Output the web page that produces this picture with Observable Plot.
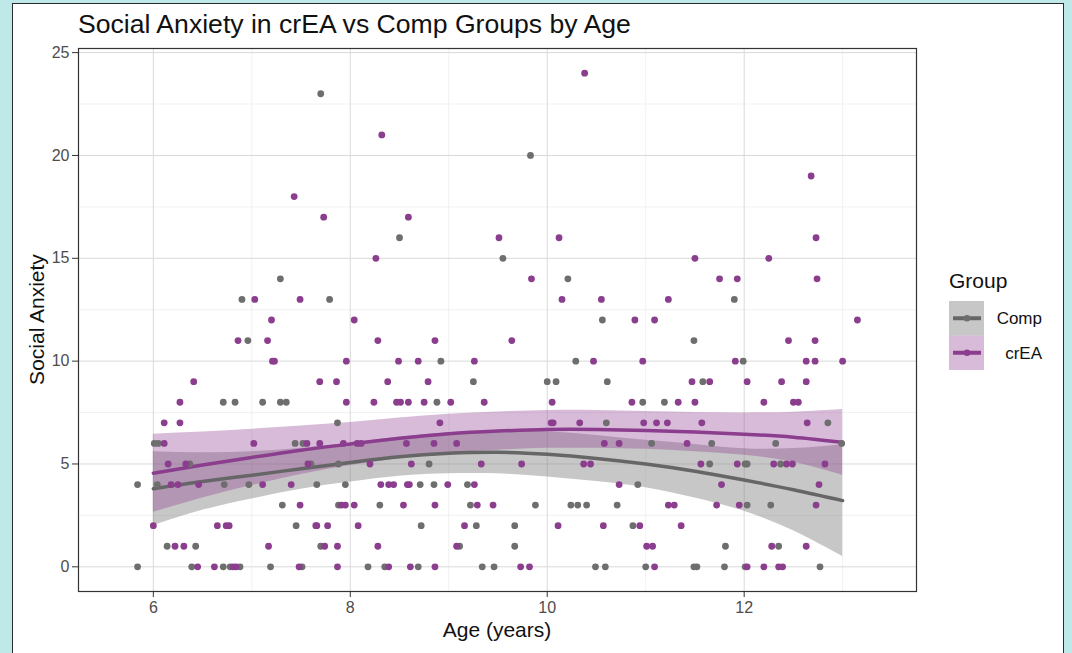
<!DOCTYPE html>
<html><head><meta charset="utf-8">
<script src="https://cdn.jsdelivr.net/npm/d3@7"></script>
<script src="https://cdn.jsdelivr.net/npm/@observablehq/plot@0.6"></script>
<style>
html,body{margin:0;padding:0;background:#bfe8e8;width:1072px;height:653px;overflow:hidden;font-family:"Liberation Sans",Arial,Helvetica,sans-serif;}
#card{position:absolute;left:12px;top:3px;width:1052px;height:700px;background:#fff;border:1px solid #2b2b2b;box-sizing:border-box;}
#chart{position:absolute;left:0;top:0;}
</style></head><body><div id="card"></div><div id="chart"></div>
<script>
const titleText = "Social Anxiety in crEA vs Comp Groups by Age";
const xTitle = "Age (years)";
const yTitle = "Social Anxiety";
const legendTitle = "Group";
const groups = ["Comp", "crEA"];

const xMajor = [6, 8, 10, 12];
const xMinor = [7, 9, 11, 13];
const yMajor = [0, 5, 10, 15, 20, 25];
const yMinor = [2.5, 7.5, 12.5, 17.5, 22.5];

const compAge = [7.70, 9.83, 8.50, 9.55, 7.29, 10.21, 6.90, 7.79, 11.90, 10.56, 6.96, 11.49,
  8.92, 10.29, 11.99, 9.25, 10.00, 10.09, 10.61, 11.58,
  6.71, 6.83, 7.11, 7.29, 7.35, 8.88, 10.97, 11.19,
  7.87, 10.60, 12.85,
  6.01, 6.05, 7.44, 7.52, 11.06, 11.67, 12.32, 12.99,
  6.37, 7.60, 7.88, 8.80, 11.65, 12.01, 12.03, 12.37,
  5.84, 6.04, 6.72, 6.97, 7.66, 7.95, 8.71, 8.85, 9.19, 10.92,
  7.31, 7.88, 8.30, 9.22, 9.88, 10.24, 10.31, 10.40, 10.71, 12.03, 12.27,
  7.45, 8.72, 9.28, 9.67, 10.87,
  6.14, 6.43, 7.70, 9.11, 9.67, 11.81, 12.35,
  5.84, 6.39, 6.71, 6.78, 6.88, 7.19, 7.51, 8.18, 8.35, 8.69, 9.34, 9.46, 10.49, 10.59, 11.00, 11.49, 11.52, 11.80, 12.01, 12.77];
const compScore = [23, 20, 16, 15, 14, 14, 13, 13, 13, 12, 11, 11,
  10, 10, 10, 9, 9, 9, 9, 9,
  8, 8, 8, 8, 8, 8, 8, 8,
  7, 7, 7,
  6, 6, 6, 6, 6, 6, 6, 6,
  5, 5, 5, 5, 5, 5, 5, 5,
  4, 4, 4, 4, 4, 4, 4, 4, 4, 4,
  3, 3, 3, 3, 3, 3, 3, 3, 3, 3, 3,
  2, 2, 2, 2, 2,
  1, 1, 1, 1, 1, 1, 1,
  0, 0, 0, 0, 0, 0, 0, 0, 0, 0, 0, 0, 0, 0, 0, 0, 0, 0, 0, 0];

const creaAge = [10.38, 8.32, 12.68, 7.43, 7.73, 8.59, 9.51, 10.12, 12.73, 8.26, 11.50, 12.25,
  9.84, 11.75, 11.93, 12.74,
  7.03, 7.49, 10.15, 10.55, 11.23,
  7.20, 8.04, 10.89, 11.09, 13.15,
  6.86, 7.16, 8.28, 8.86, 9.64, 12.45, 12.72,
  7.21, 7.23, 7.96, 8.49, 8.69, 9.26, 10.47, 10.97, 11.91, 12.63, 12.72, 13.00,
  6.41, 7.69, 7.86, 8.38, 8.79, 11.47, 11.65, 12.03, 12.38, 12.63,
  6.27, 7.96, 8.24, 8.47, 8.51, 8.59, 8.75, 9.02, 9.36, 10.05, 10.86, 11.33, 11.50, 12.20, 12.50, 12.55,
  6.11, 6.27, 8.91, 10.04, 10.06, 10.33, 10.98, 11.11, 11.22, 11.57, 12.64,
  6.11, 7.02, 7.56, 7.69, 7.93, 8.07, 8.11, 8.57, 8.85, 9.08, 10.58, 10.73, 11.42,
  6.15, 6.33, 7.57, 8.20, 8.62, 9.33, 9.74, 10.37, 10.44, 11.56, 11.93, 12.30, 12.43, 12.49, 12.82,
  6.18, 6.25, 6.46, 7.11, 7.40, 8.31, 8.39, 8.44, 8.58, 8.60, 8.99, 9.26, 10.73, 11.77, 12.76,
  7.49, 7.91, 7.95, 8.04, 8.54, 8.86, 9.29, 9.45, 11.23, 11.29, 11.72, 11.95, 12.73,
  6.00, 6.65, 6.74, 6.77, 7.65, 7.66, 7.77, 8.08, 9.16, 10.11, 10.57, 10.94, 11.36,
  6.22, 6.31, 7.17, 7.74, 7.87, 8.28, 9.08, 11.01, 11.07, 12.28, 12.63,
  6.45, 6.62, 6.81, 6.84, 7.48, 7.87, 8.39, 8.61, 8.86, 9.73, 9.82, 11.09, 12.03, 12.20, 12.35, 12.39];
const creaScore = [24, 21, 19, 18, 17, 17, 16, 16, 16, 15, 15, 15,
  14, 14, 14, 14,
  13, 13, 13, 13, 13,
  12, 12, 12, 12, 12,
  11, 11, 11, 11, 11, 11, 11,
  10, 10, 10, 10, 10, 10, 10, 10, 10, 10, 10, 10,
  9, 9, 9, 9, 9, 9, 9, 9, 9, 9,
  8, 8, 8, 8, 8, 8, 8, 8, 8, 8, 8, 8, 8, 8, 8, 8,
  7, 7, 7, 7, 7, 7, 7, 7, 7, 7, 7,
  6, 6, 6, 6, 6, 6, 6, 6, 6, 6, 6, 6, 6,
  5, 5, 5, 5, 5, 5, 5, 5, 5, 5, 5, 5, 5, 5, 5,
  4, 4, 4, 4, 4, 4, 4, 4, 4, 4, 4, 4, 4, 4, 4,
  3, 3, 3, 3, 3, 3, 3, 3, 3, 3, 3, 3, 3,
  2, 2, 2, 2, 2, 2, 2, 2, 2, 2, 2, 2, 2,
  1, 1, 1, 1, 1, 1, 1, 1, 1, 1, 1,
  0, 0, 0, 0, 0, 0, 0, 0, 0, 0, 0, 0, 0, 0, 0, 0];

const smoothAge = [6.0, 6.5, 7.0, 7.5, 8.0, 8.5, 9.0, 9.5, 10.0, 10.5, 11.0, 11.5, 12.0, 12.5, 13.0];
const compFit = [3.80, 4.15, 4.45, 4.77, 5.07, 5.35, 5.52, 5.57, 5.47, 5.27, 5.00, 4.65, 4.22, 3.75, 3.22];
const compLo  = [2.00, 2.75, 3.30, 3.77, 4.12, 4.40, 4.52, 4.52, 4.37, 4.15, 3.85, 3.35, 2.70, 1.75, 0.50];
const compHi  = [5.60, 5.55, 5.60, 5.77, 6.02, 6.30, 6.52, 6.62, 6.57, 6.39, 6.15, 5.95, 5.74, 5.75, 5.94];
const creaFit = [4.55, 4.95, 5.32, 5.67, 5.97, 6.25, 6.47, 6.60, 6.68, 6.68, 6.63, 6.55, 6.45, 6.30, 6.05];
const creaLo  = [2.65, 3.35, 3.95, 4.49, 4.92, 5.27, 5.52, 5.67, 5.76, 5.76, 5.71, 5.60, 5.42, 5.08, 4.45];
const creaHi  = [6.45, 6.55, 6.69, 6.85, 7.02, 7.23, 7.42, 7.53, 7.60, 7.60, 7.55, 7.50, 7.48, 7.52, 7.65];

const colors = ["#6e6e6e", "#8b3d8e"];
const lineColors = ["#666666", "#8b3d8e"];
const bandFill = ["#7f7f7f", "#8b3d8e"];
const bandOpacity = [0.44, 0.35];

const points = [
  ...compAge.map((a, i) => ({group: groups[0], age: a, score: compScore[i]})),
  ...creaAge.map((a, i) => ({group: groups[1], age: a, score: creaScore[i]}))
];
const compSmooth = smoothAge.map((a, i) => ({age: a, fit: compFit[i], lo: compLo[i], hi: compHi[i]}));
const creaSmooth = smoothAge.map((a, i) => ({age: a, fit: creaFit[i], lo: creaLo[i], hi: creaHi[i]}));

const FONT = '"Liberation Sans", Arial, Helvetica, sans-serif';
const ML = 78, MR = 156, MT = 48, MB = 62;

const plot = Plot.plot({
  width: 1072, height: 653,
  marginLeft: ML, marginRight: MR, marginTop: MT, marginBottom: MB,
  style: {background: "transparent", fontFamily: FONT, fontSize: "16px", overflow: "visible"},
  x: {domain: [5.24, 13.75]},
  y: {domain: [-1.2, 25.2]},
  color: {domain: groups, range: colors},
  marks: [
    Plot.ruleX(xMinor, {stroke: "#eeeeee", strokeWidth: 0.8}),
    Plot.ruleY(yMinor, {stroke: "#eeeeee", strokeWidth: 0.8}),
    Plot.ruleX(xMajor, {stroke: "#d9d9d9", strokeWidth: 1}),
    Plot.ruleY(yMajor, {stroke: "#d9d9d9", strokeWidth: 1}),
    Plot.areaY(compSmooth, {x: "age", y1: "lo", y2: "hi", fill: bandFill[0], fillOpacity: bandOpacity[0], curve: "natural"}),
    Plot.areaY(creaSmooth, {x: "age", y1: "lo", y2: "hi", fill: bandFill[1], fillOpacity: bandOpacity[1], curve: "natural"}),
    Plot.line(compSmooth, {x: "age", y: "fit", stroke: lineColors[0], strokeWidth: 3.5, curve: "natural"}),
    Plot.line(creaSmooth, {x: "age", y: "fit", stroke: lineColors[1], strokeWidth: 3.5, curve: "natural"}),
    Plot.dot(points, {x: "age", y: "score", fill: "group", r: 3.4}),
    Plot.frame({stroke: "#333333", strokeWidth: 1.2}),
    Plot.axisX(xMajor, {tickSize: 6, tickPadding: 4, color: "#333333", label: null}),
    Plot.axisY(yMajor, {tickSize: 6, tickPadding: 3, color: "#333333", label: null})
  ]
});
document.getElementById("chart").appendChild(plot);

const svg = d3.select(plot);
svg.selectAll("g[aria-label$='tick label'] text").attr("fill", "#4d4d4d");

const cx = ML + (1072 - ML - MR) / 2;
const cy = MT + (653 - MT - MB) / 2;

svg.append("text").attr("x", 78).attr("y", 33).attr("text-anchor", "start")
  .style("font-size", "26.6px").style("font-family", FONT).attr("fill", "#111").text(titleText);
svg.append("text").attr("x", cx).attr("y", 637).attr("text-anchor", "middle")
  .style("font-size", "21px").style("font-family", FONT).attr("fill", "#111").text(xTitle);
svg.append("text").attr("transform", `translate(44,${cy}) rotate(-90)`).attr("text-anchor", "middle")
  .style("font-size", "21px").style("font-family", FONT).attr("fill", "#111").text(yTitle);

// legend
const lg = svg.append("g");
lg.append("text").attr("x", 949).attr("y", 288).attr("text-anchor", "start")
  .style("font-size", "21px").style("font-family", FONT).attr("fill", "#111").text(legendTitle);
groups.forEach((g, i) => {
  const top = 301 + i * 34.5;
  const mid = top + 17.25;
  lg.append("rect").attr("x", 949).attr("y", top).attr("width", 35).attr("height", 34.5)
    .attr("fill", bandFill[i]).attr("fill-opacity", bandOpacity[i]);
  lg.append("line").attr("x1", 953).attr("x2", 981).attr("y1", mid).attr("y2", mid)
    .attr("stroke", lineColors[i]).attr("stroke-width", 4);
  lg.append("circle").attr("cx", 967).attr("cy", mid).attr("r", 3.3).attr("fill", colors[i]);
  lg.append("text").attr("x", 1042).attr("y", mid).attr("dy", "0.35em").attr("text-anchor", "end")
    .style("font-size", "17px").style("font-family", FONT).attr("fill", "#111").text(g);
});
</script></body></html>
